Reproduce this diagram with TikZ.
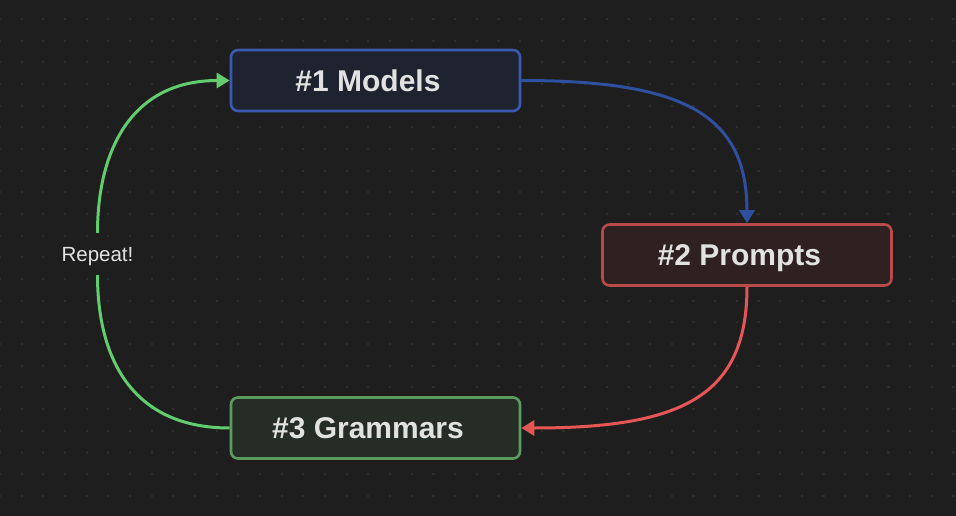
\documentclass[tikz,border=0pt]{standalone}
\usepackage{fontspec}
\setmainfont{Liberation Sans}
\usetikzlibrary{arrows.meta}
\definecolor{bg}{HTML}{1E1E1E}
\definecolor{dotc}{HTML}{2E2E2E}
\definecolor{txt}{HTML}{E2E2E2}
\definecolor{mborder}{HTML}{3A5AB0}
\definecolor{mfill}{HTML}{1F2330}
\definecolor{pborder}{HTML}{B84A4A}
\definecolor{pfill}{HTML}{2F2021}
\definecolor{gborder}{HTML}{5A9D5E}
\definecolor{gfill}{HTML}{262C26}
\definecolor{bedge}{HTML}{2F4F9F}
\definecolor{redge}{HTML}{E65656}
\definecolor{gedge}{HTML}{62CC6F}
\tikzset{
  stagebox/.style={draw, line width=2.6pt, rounded corners=7pt, minimum width=289pt, minimum height=61pt,
    inner sep=0pt, text=txt, font=\fontsize{30pt}{36pt}\selectfont\bfseries, text height=21.5pt, text depth=0pt},
  conn/.style={line width=3pt, -{Triangle[width=15pt,length=13pt]}},
  plainconn/.style={line width=3pt},
  replabel/.style={inner sep=0pt, minimum height=42pt, text=txt, font=\fontsize{20.5pt}{24pt}\selectfont,
    text height=15pt, text depth=0pt}
}
\begin{document}
\begin{tikzpicture}[x=1pt,y=-1pt]
\useasboundingbox (0,0) rectangle (956,516);
\fill[bg] (0,0) rectangle (956,516);
\foreach \i in {0,...,44}{
  \foreach \j in {0,...,23}{
    \fill[dotc] ({\i*21.67-1.1},{19+\j*21.67-1.1}) rectangle ++(2.2,2.2);
  }
}
\node[stagebox, draw=mborder, fill=mfill] (m) at (375.5,80.5) {\#1 Models\kern15pt};
\node[stagebox, draw=pborder, fill=pfill] (p) at (747,255) {\#2 Prompts\kern15pt};
\node[stagebox, draw=gborder, fill=gfill] (g) at (375.5,428) {\#3 Grammars\kern15pt};
\node[replabel] (r) at (97.5,254) {Repeat!};
\draw[conn, bedge] (m.east) .. controls +(160,0) and +(0,-110) .. (p.north);
\draw[conn, redge] (p.south) .. controls +(0,110) and +(160,0) .. (g.east);
\draw[plainconn, gedge] (g.west) .. controls +(-100,0) and +(0,80) .. (r.south);
\draw[conn, gedge] (r.north) .. controls +(0,-80) and +(-100,0) .. (m.west);
\end{tikzpicture}
\end{document}
